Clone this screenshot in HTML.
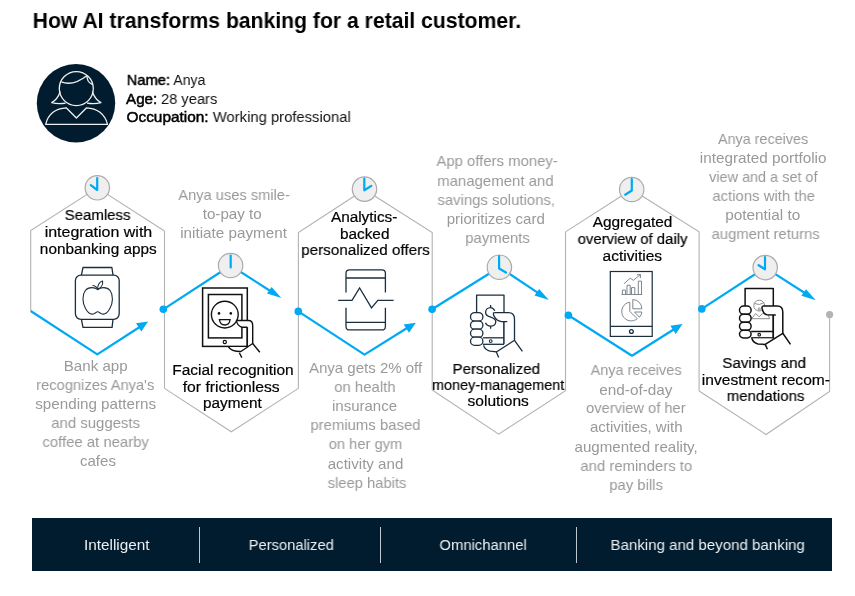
<!DOCTYPE html>
<html>
<head>
<meta charset="utf-8">
<style>
html,body{margin:0;padding:0;background:#fff;}
body{width:855px;height:596px;position:relative;overflow:hidden;font-family:"Liberation Sans",sans-serif;-webkit-font-smoothing:antialiased;}
.ln{position:absolute;white-space:nowrap;line-height:20px;height:20px;transform-origin:50% 50%;will-change:transform;}
.info{position:absolute;left:127px;top:70px;font-size:15.2px;line-height:19px;color:#111;white-space:nowrap;will-change:transform;}
.info b{font-weight:700;}
.banner{position:absolute;left:32px;top:518px;width:800px;height:53px;background:#001c2e;}
.dv{position:absolute;top:8.8px;width:1.1px;height:36.2px;background:#bfc6cc;}
svg{position:absolute;left:0;top:0;}
</style>
</head>
<body>
<div class="banner">
  <div class="dv" style="left:166.8px"></div>
  <div class="dv" style="left:348.4px"></div>
  <div class="dv" style="left:544.1px"></div>
</div>
<svg width="855" height="596" viewBox="0 0 855 596">
  <!-- avatar -->
  <circle cx="76" cy="103.3" r="39.2" fill="#001c2e"/>
  <g fill="none" stroke="#f0f0f0" stroke-width="1.3" stroke-linejoin="round">
    <circle cx="76.3" cy="88.6" r="17"/>
    <path d="M61.3,81.9 Q73,86.5 87.1,75.4"/>
    <path d="M87.1,75.4 Q86.3,81.8 92.6,84.6"/>
    <path d="M60.3,91.5 Q57.5,99.5 51.7,102.6 Q58,104.3 65.6,103.1"/>
    <path d="M92.3,91.5 Q95.1,99.5 100.9,102.6 Q94.6,104.3 87,103.1"/>
    <path d="M45.7,124.4 C48,114 56,108.2 66.2,107.8 L76.4,118 L86.6,107.8 C96.8,108.2 105,114 107.5,124.4 Z"/>
  </g>

  <!-- hex outlines -->
  <g fill="none" stroke="#b3b3b3" stroke-width="1.1">
    <polyline points="30.7,311 30.7,230.6 97.3,187.8 164.5,231"/>
    <line x1="164.5" y1="231" x2="164.5" y2="388.4"/>
    <polyline points="164.5,388.4 231.3,431.8 298.4,388.4"/>
    <polyline points="298.4,388.4 298.4,232.5 364.5,189.5 432.2,232.5 432.2,390"/>
    <polyline points="432.2,390 498.7,434.1 565.5,390.6 565.5,231.9"/>
    <polyline points="565.5,231.9 631.7,189.5 699.1,231.9 699.1,391"/>
    <polyline points="699.1,391 766,434.5 829.6,391.5 829.6,314.6"/>
  </g>
  <circle cx="829.6" cy="314.6" r="3.6" fill="#b3b3b3"/>

  <!-- blue path -->
  <g fill="none" stroke="#00a9f4" stroke-width="2.2" stroke-linejoin="round">
    <polyline points="30.7,311 97.3,354.3 142,325.5"/>
    <polyline points="163.3,309.3 230.6,265.5 275,294"/>
    <polyline points="298.3,311.4 364.5,354.6 409.5,326.5"/>
    <polyline points="432.1,309.3 499.4,267.2 542.5,295.8"/>
    <polyline points="568.4,315.3 632,355.7 676,328"/>
    <polyline points="701.8,308.9 765.2,267.6 809.5,296"/>
  </g>
  <g fill="#00a9f4">
    <circle cx="163.3" cy="309.3" r="3.8"/>
    <circle cx="298.3" cy="311.4" r="3.8"/>
    <circle cx="432.1" cy="309.3" r="3.8"/>
    <circle cx="568.4" cy="315.3" r="3.8"/>
    <circle cx="701.8" cy="308.9" r="3.8"/>
    <polygon points="148.1,321.6 136,323.3 141.3,331.6"/>
    <polygon points="281.4,298.1 271.6,287 267,293.6"/>
    <polygon points="415.8,322.7 403.7,324.4 409,332.7"/>
    <polygon points="548.9,300.1 539.1,289 534.5,295.6"/>
    <polygon points="682.5,324 670.4,325.7 675.7,334"/>
    <polygon points="815.8,300.3 806,289.2 801.4,295.8"/>
  </g>

  <!-- clocks -->
  <g fill="#efefef" stroke="#ababab" stroke-width="1.2">
    <circle cx="97.3" cy="187.8" r="12.2"/>
    <circle cx="230.6" cy="265.5" r="12.2"/>
    <circle cx="364.5" cy="189.1" r="12.2"/>
    <circle cx="499.4" cy="267.2" r="12.2"/>
    <circle cx="631.7" cy="189.5" r="12.2"/>
    <circle cx="765.2" cy="267.6" r="12.2"/>
  </g>
  <g fill="none" stroke="#00a9f4" stroke-width="2.2" stroke-linecap="round" stroke-linejoin="round">
    <polyline points="97.2,178 97.2,190 90.8,185.2"/>
    <polyline points="230.7,255.5 230.7,267.5"/>
    <polyline points="364.3,178.5 364.3,190.3 371.3,185.9"/>
    <polyline points="499.1,256.2 499.1,268.5 506,272.5"/>
    <polyline points="631.8,179.2 631.8,190.5 625.2,194.7"/>
    <polyline points="765,257.2 765,269.3 758.6,265.2"/>
  </g>

  <!-- icon1 watch -->
  <g fill="none" stroke="#1a2e3e" stroke-width="1.3" stroke-linejoin="round">
    <polyline points="81.4,275.2 83,267.5 111.9,267.5 113,275.2"/>
    <rect x="75.4" y="275.2" width="43.8" height="44.1" rx="5.5"/>
    <polyline points="81.4,319.3 83,327.4 112.1,327.4 113,319.3"/>
    <path stroke-width="1.1" d="M97.7,289.7 C95,287 88.5,286.5 85.3,290.5 C82,295 82.3,303 85.5,308.5 C88,313 91.5,315 94.5,313.5 C96,312.5 97,311.7 97.7,311.7 C98.4,311.7 99.4,312.5 100.9,313.5 C103.9,315 107.4,313 109.9,308.5 C113.1,303 113.4,295 110.1,290.5 C106.9,286.5 100.4,287 97.7,289.7 Z"/>
    <path stroke-width="1.1" d="M97.7,289.5 C97.5,285.5 99.5,282 102.6,281 C103.2,284.5 101,288 97.7,289.5 Z"/>
    <path stroke-width="1.1" d="M97.5,288.8 C96.5,286.8 94.5,285.5 92.5,285.5"/>
  </g>

  <!-- icon2 tablet smile -->
  <g fill="none" stroke="#111" stroke-width="1.5">
    <rect x="202.6" y="288" width="44.7" height="58.4"/>
    <rect x="208.4" y="294.5" width="33.5" height="43.4"/>
    <circle cx="224.8" cy="342" r="1.6" stroke-width="1.2"/>
    <circle cx="224.8" cy="314.6" r="13.4" stroke-width="1.4"/>
    <path stroke-width="1.3" d="M219.4,319.6 L230.1,319.6 C229.6,323.3 227.3,325 224.8,325 C222.3,325 220,323.3 219.4,319.6 Z"/>
  </g>
  <g fill="#111">
    <circle cx="219" cy="313.4" r="1.3"/>
    <circle cx="230.8" cy="313.4" r="1.3"/>
  </g>
  <path fill="#fff" stroke="none" d="M236.7,320.5 L248.5,320.5 Q252.7,320.5 252.7,325.5 L252.7,343.5 L240.9,351.5 Q231,351.5 228.4,347 L247.3,347 L247.3,327.2 L240.9,327.2 Q237.5,325.5 236.7,320.5 Z"/>
  <g fill="none" stroke="#111" stroke-width="1.4" stroke-linejoin="round">
    <path d="M236.4,320.5 L248.5,320.5 Q252.7,320.5 252.7,325.5 L252.7,343.5 L240.9,351.5 Q231,351.5 228.4,346.6"/>
    <path d="M236.4,320.5 Q237.3,326 241.9,327.2 L247.3,327.2"/>
    <path d="M252.7,343.5 L259.8,352.3"/>
    <line x1="247.3" y1="327.2" x2="247.3" y2="347.1" stroke-width="1.5"/>
    <path d="M239.3,352.8 L241.8,357.6"/>
  </g>

  <!-- icon3 phone pulse -->
  <g fill="none" stroke="#1a2e3e" stroke-width="1.3" stroke-linejoin="miter">
    <path d="M346,292.5 L346,273.3 Q346,269.8 349.5,269.8 L381.9,269.8 Q385.4,269.8 385.4,273.3 L385.4,292.5"/>
    <path d="M346,307.8 L346,326.4 Q346,329.9 349.5,329.9 L381.9,329.9 Q385.4,329.9 385.4,326.4 L385.4,307.8"/>
    <line x1="346" y1="278" x2="385.4" y2="278"/>
    <line x1="346" y1="322.3" x2="385.4" y2="322.3"/>
    <polyline points="338.2,300.3 352,300.3 359.6,288 371.5,307.8 377.8,300.3 393.6,300.3"/>
  </g>

  <!-- icon4 hand phone dollar -->
  <g fill="none" stroke="#1a2e3e" stroke-width="1.3" stroke-linejoin="round">
    <polyline points="476.6,312.6 476.6,295.1 504,295.1 504,312.6"/>
    <line x1="504" y1="321.6" x2="504" y2="344.3"/>
    <line x1="482.9" y1="337.8" x2="504" y2="337.8"/>
    <line x1="482.9" y1="344.3" x2="504" y2="344.3"/>
    <circle cx="490.7" cy="341.1" r="1.4" stroke-width="1.1"/>
    <path d="M490.6,305 L490.6,307.6 M490.6,326.2 L490.6,328.8"/>
    <path d="M494.8,310.8 C493.6,308.5 492.3,307.6 490.6,307.6 C487.7,307.6 485.6,309.8 485.6,312.4 C485.6,315.6 488.5,316.4 490.6,317 C493,317.7 495.8,318.8 495.8,321.6 C495.8,324.3 493.5,326.2 490.6,326.2 C488.2,326.2 486.3,324.8 485.5,322.8"/>
    <rect x="470.5" y="312.6" width="12.4" height="8.5" rx="4.2" fill="#fff"/>
    <rect x="470.5" y="321.1" width="12.4" height="8.1" rx="4" fill="#fff"/>
    <rect x="470.5" y="329.2" width="12.4" height="8" rx="4" fill="#fff"/>
    <rect x="470.5" y="337.2" width="12.4" height="8.1" rx="4" fill="#fff"/>
    <path fill="#fff" d="M494.2,312.6 L508.3,312.6 Q514.5,312.6 514.5,319.1 L514.5,340.3 L496.7,351.8 L490,351.2 Q484.6,349.5 483.6,345.3 L504,345.3 L504,321.6 L501,321.6 Q495,320.5 493.8,314.5 Q493.6,312.6 494.2,312.6 Z" stroke="none"/>
    <path d="M494.2,312.6 L508.3,312.6 Q514.5,312.6 514.5,319.1 L514.5,340.3 L496.7,351.8 L490,351.2 Q484.6,349.5 483.6,345.3"/>
    <path d="M494.2,312.6 Q492.8,313.2 493.8,315.5 Q496,320.8 501.5,321.6 L507.3,321.6"/>
    <line x1="504" y1="321.6" x2="504" y2="344.3"/>
    <path d="M514.5,340.3 L522.4,351.3 M496.2,351.8 L498.7,357.4"/>
  </g>

  <!-- icon5 phone charts -->
  <g fill="none" stroke="#1a2e3e" stroke-width="1.2">
    <rect x="610.3" y="271.5" width="41.9" height="64.9"/>
    <line x1="610.3" y1="326.4" x2="652.2" y2="326.4"/>
    <circle cx="631.4" cy="331.5" r="1.9" stroke-width="1.3"/>
  </g>
  <g fill="none" stroke="#7d8891" stroke-width="1">
    <polyline points="622.4,294.5 622.4,290.1 625.6,290.1 625.6,294.5"/>
    <polyline points="627,294.5 627,285.3 630.2,285.3 630.2,294.5"/>
    <polyline points="631.5,294.5 631.5,287.6 634.8,287.6 634.8,294.5"/>
    <polyline points="638.3,294.5 638.3,281.1 641.5,281.1 641.5,294.5"/>
    <line x1="621.5" y1="294.5" x2="642.2" y2="294.5"/>
    <polyline points="623.9,283.9 630.2,278.2 633.3,280.3 640.2,274.8"/>
    <polyline points="636.8,274.8 640.6,274.6 640.3,278.2"/>
    <path d="M629.8,302.2 A9.4,9.4 0 1 0 637.3,318.6 L629.8,311.5 Z"/>
    <path d="M632.8,299.5 A9.4,9.4 0 0 1 641.9,308.8 L632.8,308.8 Z"/>
    <path d="M634.5,312 L641.9,312 A9.4,9.4 0 0 1 639.4,317.3 Z"/>
  </g>

  <!-- icon6 hand phone person -->
  <g fill="none" stroke="#8f8f8f" stroke-width="1">
    <circle cx="759.2" cy="305.6" r="5.4"/>
    <path d="M754.2,303.5 Q759.5,306 764.3,302.5"/>
    <circle cx="759.2" cy="309" r="1.1"/>
    <polyline points="751.6,318.7 755.5,313.6 759.2,316.7 762.6,313.6 767.5,313.6 769.7,318.7 751.6,318.7"/>
  </g>
  <g fill="none" stroke="#111" stroke-width="1.5" stroke-linejoin="round">
    <polyline points="745.1,306.1 745.1,288.5 773.3,288.5 773.3,306.1"/>
    <line x1="773.3" y1="314.7" x2="773.3" y2="337.9"/>
    <line x1="751.1" y1="331.5" x2="773.3" y2="331.5"/>
    <line x1="751.1" y1="337.9" x2="773.3" y2="337.9"/>
    <circle cx="759.2" cy="334.7" r="1.3" stroke-width="1.1"/>
    <rect x="739.5" y="306.1" width="11.6" height="8.1" rx="4" fill="#fff"/>
    <rect x="739.5" y="314.2" width="11.6" height="8" rx="4" fill="#fff"/>
    <rect x="739.5" y="322.2" width="11.6" height="8.1" rx="4" fill="#fff"/>
    <rect x="739.5" y="330.3" width="11.6" height="7.6" rx="3.8" fill="#fff"/>
    <path fill="#fff" stroke="none" d="M762.7,306.1 L777.3,306.1 Q782.8,306.1 782.8,312.2 L782.8,333.3 L765.2,344.4 L758,344 Q753,342.5 751.8,338.6 L773.3,338.6 L773.3,314.9 L766,314.6 Q762,312.5 762.2,308.5 Q762.2,306.1 762.7,306.1 Z"/>
    <path d="M762.7,306.1 L777.3,306.1 Q782.8,306.1 782.8,312.2 L782.8,333.3 L765.2,344.4 L758,344 Q753,342.5 751.8,338.2"/>
    <path d="M762.7,306.1 Q761.6,307 762.2,309 Q763.5,314.2 767,314.7 L775.8,315"/>
    <path d="M782.8,333.3 L790.5,344.4 M765.2,344.4 L767.4,349.3"/>
    <line x1="773.3" y1="314.9" x2="773.3" y2="338.6"/>
  </g>
</svg>

<div class="ln" style="left:23.35px;top:11.00px;width:507.750px;font-size:22px;font-weight:700;color:#000;transform:scaleX(0.9619);">How AI transforms banking for a retail customer.</div>
<div class="ln" style="left:125.55px;top:70.00px;width:44.734px;font-size:15.2px;font-weight:400;color:#000;transform:scaleX(0.9698);-webkit-text-stroke:0.5px #000;">Name:</div>
<div class="ln" style="left:172.36px;top:70.00px;width:34.625px;font-size:15.2px;font-weight:400;color:#111;transform:scaleX(0.9229);">Anya</div>
<div class="ln" style="left:126.30px;top:89.00px;width:31.250px;font-size:15.2px;font-weight:400;color:#000;transform:scaleX(1.0000);-webkit-text-stroke:0.5px #000;">Age:</div>
<div class="ln" style="left:159.85px;top:89.00px;width:58.266px;font-size:15.2px;font-weight:400;color:#111;transform:scaleX(0.9672);">28 years</div>
<div class="ln" style="left:127.01px;top:107.00px;width:81.062px;font-size:15.2px;font-weight:400;color:#000;transform:scaleX(1.0125);-webkit-text-stroke:0.5px #000;">Occupation:</div>
<div class="ln" style="left:211.09px;top:107.00px;width:141.547px;font-size:15.2px;font-weight:400;color:#111;transform:scaleX(0.9745);">Working professional</div>
<div class="ln" style="left:64.36px;top:205.00px;width:67.172px;font-size:15.3px;font-weight:400;color:#000000;transform:scaleX(0.9803);-webkit-text-stroke:0.2px #000000;">Seamless</div>
<div class="ln" style="left:46.90px;top:222.00px;width:102.891px;font-size:15.3px;font-weight:400;color:#000000;transform:scaleX(1.0455);-webkit-text-stroke:0.2px #000000;">integration with</div>
<div class="ln" style="left:40.25px;top:239.00px;width:116.531px;font-size:15.3px;font-weight:400;color:#000000;transform:scaleX(1.0026);-webkit-text-stroke:0.2px #000000;">nonbanking apps</div>
<div class="ln" style="left:63.75px;top:356.00px;width:63.391px;font-size:15px;font-weight:400;color:#999999;transform:scaleX(1.0081);">Bank app</div>
<div class="ln" style="left:35.46px;top:375.00px;width:120.438px;font-size:15px;font-weight:400;color:#999999;transform:scaleX(0.9807);">recognizes Anya's</div>
<div class="ln" style="left:36.25px;top:394.00px;width:119.266px;font-size:15px;font-weight:400;color:#999999;transform:scaleX(1.0126);">spending patterns</div>
<div class="ln" style="left:51.00px;top:413.00px;width:89.234px;font-size:15px;font-weight:400;color:#999999;transform:scaleX(0.9933);">and suggests</div>
<div class="ln" style="left:42.15px;top:432.00px;width:107.312px;font-size:15px;font-weight:400;color:#999999;transform:scaleX(0.9916);">coffee at nearby</div>
<div class="ln" style="left:80.25px;top:451.00px;width:35.859px;font-size:15px;font-weight:400;color:#999999;transform:scaleX(1.0029);">cafes</div>
<div class="ln" style="left:176.75px;top:185.00px;width:114.219px;font-size:15px;font-weight:400;color:#999999;transform:scaleX(0.9763);">Anya uses smile-</div>
<div class="ln" style="left:203.30px;top:204.00px;width:58.375px;font-size:15px;font-weight:400;color:#999999;transform:scaleX(1.0103);">to-pay to</div>
<div class="ln" style="left:181.19px;top:223.00px;width:105.062px;font-size:15px;font-weight:400;color:#999999;transform:scaleX(1.0154);">initiate payment</div>
<div class="ln" style="left:172.65px;top:360.00px;width:119.891px;font-size:15.3px;font-weight:400;color:#000000;transform:scaleX(1.0127);-webkit-text-stroke:0.2px #000000;">Facial recognition</div>
<div class="ln" style="left:183.50px;top:377.00px;width:94.359px;font-size:15.3px;font-weight:400;color:#000000;transform:scaleX(1.0277);-webkit-text-stroke:0.2px #000000;">for frictionless</div>
<div class="ln" style="left:202.55px;top:393.00px;width:58.672px;font-size:15.3px;font-weight:400;color:#000000;transform:scaleX(1.0017);-webkit-text-stroke:0.2px #000000;">payment</div>
<div class="ln" style="left:331.30px;top:207.00px;width:66.312px;font-size:15.3px;font-weight:400;color:#000000;transform:scaleX(1.0030);-webkit-text-stroke:0.2px #000000;">Analytics-</div>
<div class="ln" style="left:340.00px;top:224.00px;width:49.328px;font-size:15.3px;font-weight:400;color:#000000;transform:scaleX(1.0042);-webkit-text-stroke:0.2px #000000;">backed</div>
<div class="ln" style="left:300.70px;top:240.00px;width:128.984px;font-size:15.3px;font-weight:400;color:#000000;transform:scaleX(0.9969);-webkit-text-stroke:0.2px #000000;">personalized offers</div>
<div class="ln" style="left:309.00px;top:358.00px;width:113.141px;font-size:15px;font-weight:400;color:#999999;transform:scaleX(0.9982);">Anya gets 2% off</div>
<div class="ln" style="left:334.40px;top:377.00px;width:61.734px;font-size:15px;font-weight:400;color:#999999;transform:scaleX(0.9902);">on health</div>
<div class="ln" style="left:332.15px;top:396.00px;width:65.047px;font-size:15px;font-weight:400;color:#999999;transform:scaleX(0.9984);">insurance</div>
<div class="ln" style="left:309.70px;top:415.00px;width:110.891px;font-size:15px;font-weight:400;color:#999999;transform:scaleX(0.9927);">premiums based</div>
<div class="ln" style="left:327.84px;top:434.00px;width:75.047px;font-size:15px;font-weight:400;color:#999999;transform:scaleX(0.9797);">on her gym</div>
<div class="ln" style="left:328.10px;top:454.00px;width:75.047px;font-size:15px;font-weight:400;color:#999999;transform:scaleX(1.0081);">activity and</div>
<div class="ln" style="left:327.10px;top:473.00px;width:80.062px;font-size:15px;font-weight:400;color:#999999;transform:scaleX(0.9825);">sleep habits</div>
<div class="ln" style="left:436.20px;top:151.00px;width:122.297px;font-size:15px;font-weight:400;color:#999999;transform:scaleX(0.9918);">App offers money-</div>
<div class="ln" style="left:437.45px;top:171.00px;width:116.750px;font-size:15px;font-weight:400;color:#999999;transform:scaleX(0.9957);">management and</div>
<div class="ln" style="left:437.44px;top:190.00px;width:118.406px;font-size:15px;font-weight:400;color:#999999;transform:scaleX(0.9923);">savings solutions,</div>
<div class="ln" style="left:446.70px;top:209.00px;width:97.531px;font-size:15px;font-weight:400;color:#999999;transform:scaleX(1.0063);">prioritizes card</div>
<div class="ln" style="left:465.05px;top:228.00px;width:65.047px;font-size:15px;font-weight:400;color:#999999;transform:scaleX(0.9922);">payments</div>
<div class="ln" style="left:452.40px;top:359.00px;width:88.438px;font-size:15.3px;font-weight:400;color:#000000;transform:scaleX(0.9885);-webkit-text-stroke:0.2px #000000;">Personalized</div>
<div class="ln" style="left:428.47px;top:375.00px;width:140.297px;font-size:15.3px;font-weight:400;color:#000000;transform:scaleX(0.9432);-webkit-text-stroke:0.2px #000000;">money-management</div>
<div class="ln" style="left:468.45px;top:391.00px;width:60.375px;font-size:15.3px;font-weight:400;color:#000000;transform:scaleX(1.0150);-webkit-text-stroke:0.2px #000000;">solutions</div>
<div class="ln" style="left:593.10px;top:212.00px;width:79.109px;font-size:15.3px;font-weight:400;color:#000000;transform:scaleX(1.0077);-webkit-text-stroke:0.2px #000000;">Aggregated</div>
<div class="ln" style="left:575.65px;top:229.00px;width:113.078px;font-size:15.3px;font-weight:400;color:#000000;transform:scaleX(0.9708);-webkit-text-stroke:0.2px #000000;">overview of daily</div>
<div class="ln" style="left:603.16px;top:246.00px;width:58.656px;font-size:15.3px;font-weight:400;color:#000000;transform:scaleX(1.0155);-webkit-text-stroke:0.2px #000000;">activities</div>
<div class="ln" style="left:589.00px;top:360.00px;width:94.219px;font-size:15px;font-weight:400;color:#999999;transform:scaleX(0.9660);">Anya receives</div>
<div class="ln" style="left:600.00px;top:380.00px;width:71.719px;font-size:15px;font-weight:400;color:#999999;transform:scaleX(1.0222);">end-of-day</div>
<div class="ln" style="left:585.00px;top:398.00px;width:101.719px;font-size:15px;font-weight:400;color:#999999;transform:scaleX(0.9784);">overview of her</div>
<div class="ln" style="left:589.75px;top:417.00px;width:92.531px;font-size:15px;font-weight:400;color:#999999;transform:scaleX(1.0011);">activities, with</div>
<div class="ln" style="left:575.45px;top:437.00px;width:122.297px;font-size:15px;font-weight:400;color:#999999;transform:scaleX(1.0074);">augmented reality,</div>
<div class="ln" style="left:579.70px;top:456.00px;width:112.562px;font-size:15px;font-weight:400;color:#999999;transform:scaleX(0.9929);">and reminders to</div>
<div class="ln" style="left:608.60px;top:475.00px;width:54.203px;font-size:15px;font-weight:400;color:#999999;transform:scaleX(0.9887);">pay bills</div>
<div class="ln" style="left:716.20px;top:129.00px;width:94.219px;font-size:15px;font-weight:400;color:#999999;transform:scaleX(0.9574);">Anya receives</div>
<div class="ln" style="left:700.79px;top:148.00px;width:124.250px;font-size:15px;font-weight:400;color:#999999;transform:scaleX(1.0195);">integrated portfolio</div>
<div class="ln" style="left:707.01px;top:167.00px;width:112.578px;font-size:15px;font-weight:400;color:#999999;transform:scaleX(0.9628);">view and a set of</div>
<div class="ln" style="left:711.70px;top:186.00px;width:103.391px;font-size:15px;font-weight:400;color:#999999;transform:scaleX(0.9922);">actions with the</div>
<div class="ln" style="left:725.99px;top:205.00px;width:73.391px;font-size:15px;font-weight:400;color:#999999;transform:scaleX(1.0222);">potential to</div>
<div class="ln" style="left:710.50px;top:224.00px;width:109.234px;font-size:15px;font-weight:400;color:#999999;transform:scaleX(0.9890);">augment returns</div>
<div class="ln" style="left:721.80px;top:353.00px;width:84.203px;font-size:15.3px;font-weight:400;color:#000000;transform:scaleX(0.9928);-webkit-text-stroke:0.2px #000000;">Savings and</div>
<div class="ln" style="left:703.05px;top:370.00px;width:125.812px;font-size:15.3px;font-weight:400;color:#000000;transform:scaleX(1.0185);-webkit-text-stroke:0.2px #000000;">investment recom-</div>
<div class="ln" style="left:726.31px;top:386.00px;width:79.094px;font-size:15.3px;font-weight:400;color:#000000;transform:scaleX(0.9821);-webkit-text-stroke:0.2px #000000;">mendations</div>
<div class="ln" style="left:84.15px;top:535.00px;width:65.484px;font-size:15.3px;font-weight:400;color:#eceff1;transform:scaleX(1.0015);">Intelligent</div>
<div class="ln" style="left:246.96px;top:535.00px;width:88.438px;font-size:15.3px;font-weight:400;color:#eceff1;transform:scaleX(0.9621);">Personalized</div>
<div class="ln" style="left:437.98px;top:535.00px;width:90.141px;font-size:15.3px;font-weight:400;color:#eceff1;transform:scaleX(0.9685);">Omnichannel</div>
<div class="ln" style="left:609.11px;top:535.00px;width:197.328px;font-size:15.3px;font-weight:400;color:#eceff1;transform:scaleX(0.9847);">Banking and beyond banking</div>
</body>
</html>
